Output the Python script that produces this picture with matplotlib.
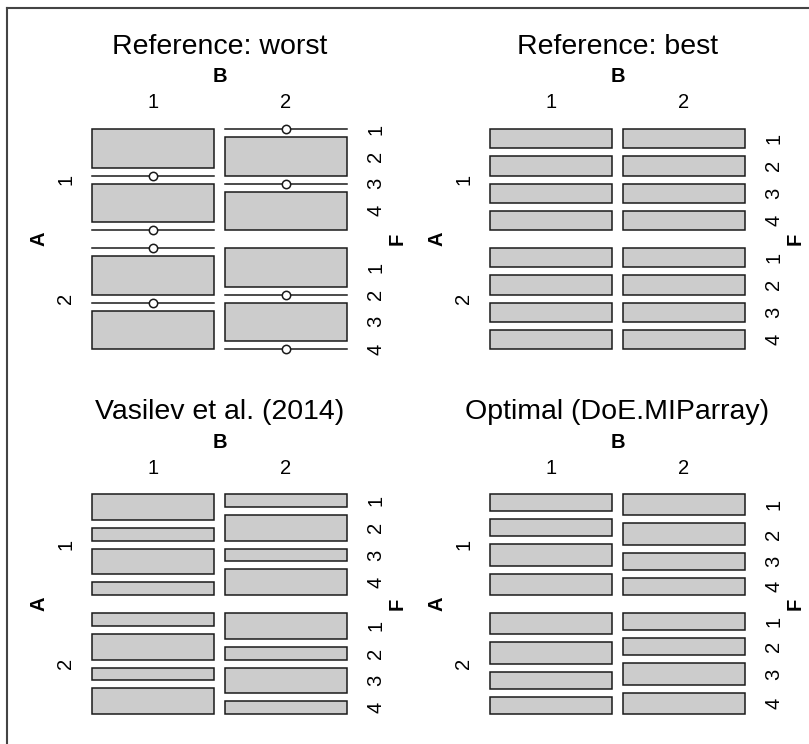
import matplotlib
matplotlib.use("Agg")
import matplotlib.pyplot as plt
from matplotlib.patches import Rectangle

plt.rcParams['font.family'] = ['Liberation Sans', 'DejaVu Sans']

# panel titles
titles = ["Reference: worst", "Reference: best",
          "Vasilev et al. (2014)", "Optimal (DoE.MIParray)"]

a_levels = ["1", "2"]
b_levels = ["1", "2"]
f_levels = ["1", "2", "3", "4"]

# counts of F levels per cell, order: (A1,B1), (A1,B2), (A2,B1), (A2,B2)
worst = [[2, 0, 2, 0], [0, 2, 0, 2], [0, 2, 0, 2], [2, 0, 2, 0]]
best = [[1, 1, 1, 1], [1, 1, 1, 1], [1, 1, 1, 1], [1, 1, 1, 1]]
vasilev = [[2, 1, 2, 1], [1, 2, 1, 2], [1, 2, 1, 2], [2, 1, 2, 1]]
optimal = [[4, 4, 5, 5], [5, 5, 4, 4], [5, 5, 4, 4], [4, 4, 5, 5]]

designs = [worst, best, vasilev, optimal]

# layout in pixels
W, H = 809, 744
origins = [(92, 129), (490, 129), (92, 494), (490, 494)]
area_w, area_h = 255, 220
gap_a, gap_b, gap_f = 18, 11, 8
fill = "#CCCCCC"
edge = "#1a1a1a"
lab_size = 14.5


def mosaic(ax, counts, x0, y0, title):
    a_tot = [sum(counts[2 * i]) + sum(counts[2 * i + 1]) for i in range(2)]
    avail_h = area_h - gap_a * (len(a_tot) - 1)
    y = y0
    f_label_pos = []
    for i, at in enumerate(a_tot):
        ah = avail_h * at / sum(a_tot)
        row = [counts[2 * i], counts[2 * i + 1]]
        b_tot = [sum(r) for r in row]
        avail_w = area_w - gap_b * (len(b_tot) - 1)
        x = x0
        for j, bt in enumerate(b_tot):
            bw = avail_w * bt / sum(b_tot)
            cell = row[j]
            fh_avail = ah - gap_f * (len(cell) - 1)
            yy = y
            for k, c in enumerate(cell):
                fh = fh_avail * c / bt
                if c == 0:
                    # empty cell: line with a small circle
                    ax.plot([x, x + bw], [yy, yy], color=edge, lw=1.1, zorder=2)
                    ax.plot(x + bw / 2, yy, 'o', ms=6, mfc='white', mec=edge,
                            mew=1.1, zorder=3)
                    pos = yy
                else:
                    ax.add_patch(Rectangle((x, yy), bw, fh, facecolor=fill,
                                           edgecolor=edge, lw=1.1, zorder=2))
                    pos = yy + fh / 2
                if j == len(b_tot) - 1:
                    f_label_pos.append((f_levels[k], pos))
                yy += fh + gap_f
            if i == 0:
                ax.text(x + bw / 2, y0 - 26, b_levels[j], ha='center',
                        va='center', fontsize=lab_size)
            x += bw + gap_b
        ax.text(x0 - 26, y + ah / 2, a_levels[i], ha='center', va='center',
                rotation=90, fontsize=lab_size)
        y += ah + gap_a

    cx = x0 + area_w / 2
    cy = y0 + area_h / 2
    ax.text(cx, y0 - 82, title, ha='center', va='center', fontsize=20.5)
    ax.text(cx, y0 - 52, "B", ha='center', va='center', fontsize=lab_size,
            fontweight='bold')
    ax.text(x0 - 53, cy, "A", ha='center', va='center', fontsize=lab_size,
            fontweight='bold', rotation=90)
    ax.text(x0 + area_w + 50, cy, "F", ha='center', va='center',
            fontsize=lab_size, fontweight='bold', rotation=90)
    for lab, pos in f_label_pos:
        ax.text(x0 + area_w + 29, pos, lab, ha='center', va='center',
                rotation=90, fontsize=lab_size)


fig = plt.figure(figsize=(W / 100, H / 100), dpi=100)
ax = fig.add_axes([0, 0, 1, 1])
ax.set_xlim(0, W)
ax.set_ylim(H, 0)
ax.axis('off')

# outer frame (only top and left edges visible)
ax.plot([7.5, W], [7.5, 7.5], color="#444444", lw=1.5)
ax.plot([7.5, 7.5], [7.5, H], color="#444444", lw=1.5)

for counts, (x0, y0), t in zip(designs, origins, titles):
    mosaic(ax, counts, x0, y0, t)

fig.savefig("out.png", dpi=100)
